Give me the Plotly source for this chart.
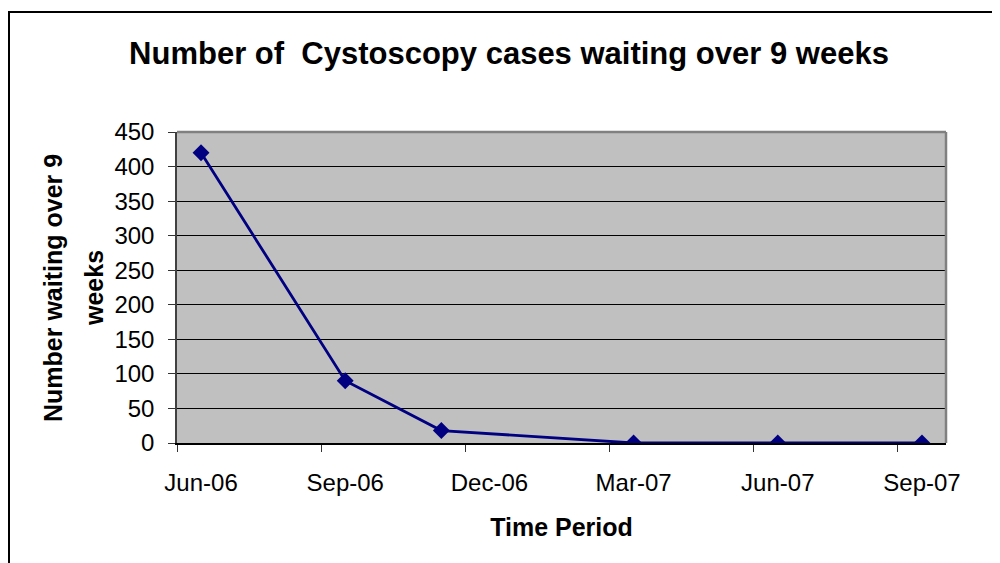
import plotly.graph_objects as go

# Data
point_labels = ["Jun-06", "Sep-06", "Nov-06", "Mar-07", "Jun-07", "Sep-07"]
month_index = [0, 3, 5, 9, 12, 15]          # months since Jun-06
waiting = [420, 90, 18, 0, 0, 0]

tick_months = [0, 3, 6, 9, 12, 15]
tick_labels = ["Jun-06", "Sep-06", "Dec-06", "Mar-07", "Jun-07", "Sep-07"]
boundary_months = [-0.5, 2.5, 5.5, 8.5, 11.5, 14.5]

y_ticks = [0, 50, 100, 150, 200, 250, 300, 350, 400, 450]

FONT = "Liberation Sans, Arial, sans-serif"
NAVY = "#000080"

fig = go.Figure()
fig.add_trace(go.Scatter(
    x=month_index, y=waiting, mode="lines+markers",
    text=point_labels,
    line=dict(color=NAVY, width=2.8),
    marker=dict(symbol="diamond", size=13, color=NAVY),
    showlegend=False,
    hovertemplate="%{text}: %{y}<extra></extra>",
))

# page has an 8px body margin; figure coords = page coords - 8
W, H = 992, 555
L, T = 169, 124
pw, ph = 769, 311
R, B = W - L - pw, H - T - ph
plot_bottom = T + ph

fig.update_layout(
    width=W, height=H,
    margin=dict(l=L, r=R, t=T, b=B, pad=0),
    paper_bgcolor="white",
    plot_bgcolor="#C0C0C0",
    font=dict(family=FONT, color="black"),
    title=dict(
        text="<b>Number of  Cystoscopy cases waiting over 9 weeks</b>",
        font=dict(size=31, family=FONT, color="black"),
        x=501 / W, xref="container", xanchor="center",
        y=1 - 45 / H, yref="container", yanchor="middle",
    ),
    xaxis=dict(
        range=[-0.5, 15.5],
        tickmode="array", tickvals=tick_months, ticktext=tick_labels,
        ticks="", showgrid=False, zeroline=False,
        tickfont=dict(size=24, family=FONT, color="black"),
        ticklabelstandoff=17,
        showline=True, linecolor="black", linewidth=1.5,
        minor=dict(tickmode="array", tickvals=boundary_months,
                   ticks="outside", ticklen=7, tickcolor="#333333",
                   tickwidth=1, showgrid=False),
        title=dict(text="<b>Time Period</b>",
                   font=dict(size=25, family=FONT, color="black"),
                   standoff=24),
    ),
    yaxis=dict(
        range=[0, 450],
        tickmode="array", tickvals=y_ticks,
        ticks="outside", ticklen=7, tickcolor="#333333", tickwidth=1,
        tickfont=dict(size=24, family=FONT, color="black"),
        ticklabelstandoff=9,
        showgrid=True, gridcolor="black", gridwidth=1,
        zeroline=False,
        showline=True, linecolor="#404040", linewidth=1.5,
    ),
)

# y-axis title as two rotated lines (wide line spacing in the reference)
yc = (plot_bottom - 280) / ph
fig.add_annotation(text="<b>Number waiting over 9</b>", xref="paper", yref="paper",
                   x=(45 - L) / pw, y=yc, xanchor="center", yanchor="middle",
                   textangle=-90, showarrow=False,
                   font=dict(size=25, family=FONT, color="black"))
fig.add_annotation(text="<b>weeks</b>", xref="paper", yref="paper",
                   x=(86 - L) / pw, y=yc, xanchor="center", yanchor="middle",
                   textangle=-90, showarrow=False,
                   font=dict(size=25, family=FONT, color="black"))

# plot-area top and right border (gray)
fig.add_shape(type="line", xref="paper", yref="paper", x0=0, x1=1, y0=1, y1=1,
              line=dict(color="#808080", width=2.5))
fig.add_shape(type="line", xref="paper", yref="paper", x0=1, x1=1, y0=0, y1=1,
              line=dict(color="#808080", width=2.5))

# outer chart border
fig.add_shape(type="rect", xref="paper", yref="paper",
              x0=(1 - L) / pw, x1=(W + 20 - L) / pw,
              y0=(plot_bottom - (H + 20)) / ph, y1=(plot_bottom - 4) / ph,
              line=dict(color="black", width=2), fillcolor="rgba(0,0,0,0)")

fig.write_html("out.html")
